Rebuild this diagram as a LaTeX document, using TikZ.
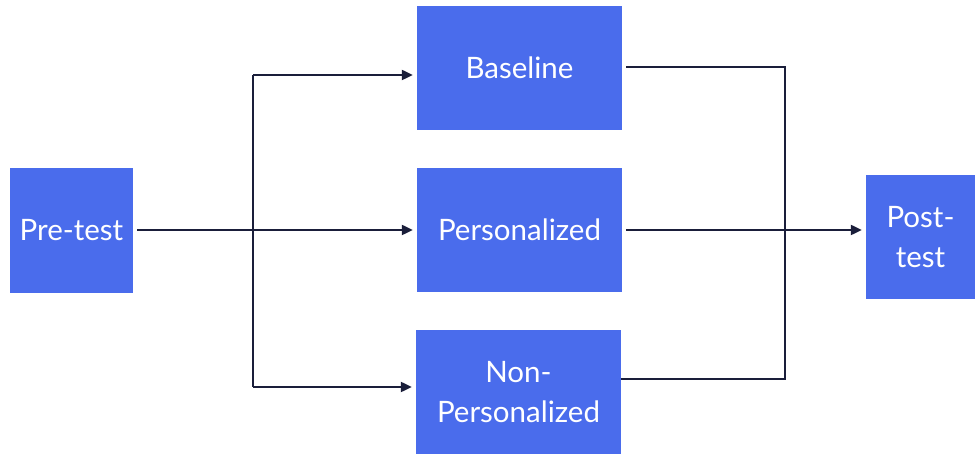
\documentclass[tikz,border=0pt]{standalone}
\usepackage{fontspec}
\setmainfont{Lato}
\usetikzlibrary{arrows.meta,positioning}
\definecolor{boxblue}{RGB}{74,108,236}
\definecolor{linecol}{RGB}{26,30,58}
\begin{document}
\begin{tikzpicture}[x=1pt,y=1pt,
  box/.style={fill=boxblue,draw=none,text=white,inner sep=0pt,align=center,
    font=\fontsize{29.5}{40}\selectfont},
  conn/.style={draw=linecol,line width=2.2pt},
  arr/.style={conn,-{Triangle[length=11pt,width=10pt]}}]
\fill[white] (0,0) rectangle (979,455);
\useasboundingbox (0,0) rectangle (979,455);
\node[box,minimum width=123pt,minimum height=125pt] (pre) at (71.5,224.5) {Pre-test};
\node[box,minimum width=205pt,minimum height=124pt] (base) at (519.5,387) {Baseline};
\node[box,minimum width=205pt,minimum height=124pt] (pers) at (519.5,225) {Personalized};
\node[box,minimum width=205pt,minimum height=124pt] (nonp) at (518.5,63) {Non-\\Personalized};
\node[box,minimum width=109pt,minimum height=124pt] (post) at (920.5,218) {Post-\\test};
\coordinate (bt) at (253,380);
\coordinate (bb) at (253,68);
\coordinate (rt) at (785,388);
\coordinate (rb) at (785,76);
\draw[arr,shorten <=4pt,shorten >=4pt] (pre.east |- pers) -- (pers.west);
\draw[conn] (bt) -- (bb);
\draw[arr,shorten >=4pt] (bt) -- (base.west |- bt);
\draw[arr,shorten >=4pt] (bb) -- (nonp.west |- bb);
\draw[conn,shorten <=4pt] (base.east |- rt) -- (rt) -- (rb) -- (nonp.east |- rb);
\draw[arr,shorten <=4pt,shorten >=4pt] (pers.east) -- (post.west |- pers);
\end{tikzpicture}
\end{document}
